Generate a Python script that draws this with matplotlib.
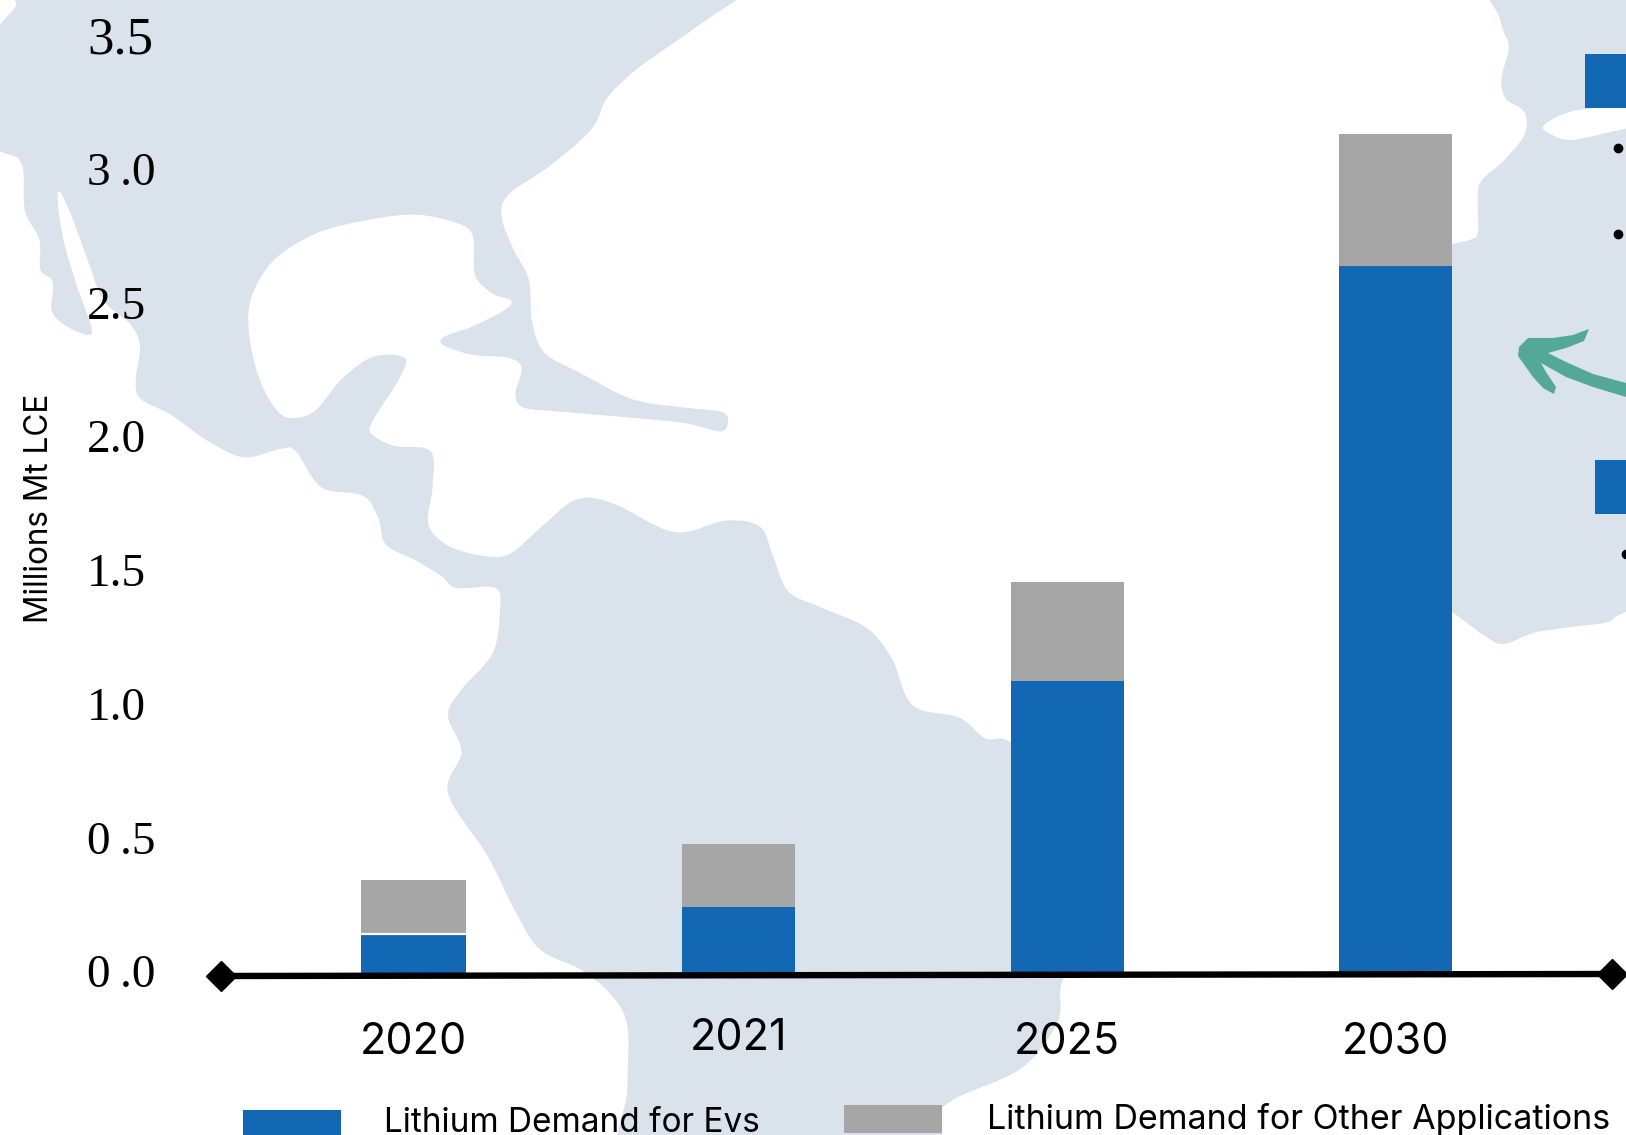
import numpy as np
import matplotlib
matplotlib.use('Agg')
import matplotlib.pyplot as plt
from matplotlib.patches import PathPatch, Polygon, Rectangle
from matplotlib.path import Path
from matplotlib.transforms import Affine2D

# ---- chart values ----
years = ['2020', '2021', '2025', '2030']
ev_demand = [0.155, 0.255, 1.10, 2.65]
other_demand = [0.20, 0.235, 0.37, 0.495]
y_ticks = [0.0, 0.5, 1.0, 1.5, 2.0, 2.5, 3.0, 3.5]
y_tick_labels = ['0\u2009.0', '0\u2009.5', '1.0', '1.5', '2.0', '2.5', '3\u2009.0', '3.5']
ev_label = 'Lithium Demand for Evs'
other_label = 'Lithium Demand for Other Applications'

BLUE = '#1268B3'
GREY = '#A6A6A6'
MAP = '#DAE2EB'
TEAL = '#54A898'
W, H = 1626, 1135
SCALE = W / 1568

# ---- background land outlines, in 1568 wide sketch units ----
americas = [
    (-30, 52), (-8, 32), (14, 8), (40, -22), (300, -30), (690, -30), (728, -16), (680, 20), (640, 48), (610, 70), (585, 95),
    (570, 125), (530, 160),
    (490, 188), (484, 210), (495, 240), (510, 270), (513, 310), (525, 340), (560, 360),
    (610, 385), (660, 393), (695, 397), (702, 405), (695, 416), (660, 408), (600, 402),
    (540, 397), (505, 393), (497, 380), (503, 355), (490, 345), (455, 342), (428, 333),
    (428, 325), (455, 315), (485, 300), (493, 290), (475, 283), (458, 265), (455, 225),
    (430, 212), (395, 207), (350, 213), (305, 225), (265, 250), (243, 285), (240, 320),
    (250, 365), (268, 397), (285, 403), (305, 395), (330, 365), (360, 344), (390, 345),
    (385, 365), (360, 405), (358, 418), (380, 430), (415, 435), (417, 470), (413, 505),
    (430, 525), (460, 535), (490, 535), (520, 510), (555, 482), (590, 485), (650, 513),
    (700, 502), (733, 508), (745, 535), (760, 570), (790, 585), (835, 605), (860, 635),
    (880, 680), (925, 692), (950, 712), (975, 716), (1030, 760), (1075, 830), (1060, 900),
    (1025, 945), (1020, 985), (985, 1030), (920, 1060), (905, 1080), (905, 1130), (760, 1140), (605, 1130),
    (605, 1050), (605, 990),
    (590, 960), (560, 935), (520, 915), (495, 875), (470, 825), (432, 765), (445, 725),
    (432, 690), (445, 665), (475, 630), (482, 590), (478, 567), (440, 567), (425, 555),
    (400, 540), (372, 525), (365, 500), (350, 478), (310, 470), (285, 435), (270, 433),
    (235, 441), (200, 425), (165, 400), (135, 384), (131, 365), (135, 333), (125, 312),
    (100, 290), (85, 252), (72, 216), (58, 185), (56, 198), (62, 235), (75, 278), (88, 315),
    (85, 323), (65, 315), (50, 300), (51, 272), (39, 260), (38, 231), (24, 203), (21, 158),
    (0, 146), (-40, 130),
]
africa = [
    (1440, -40), (1447, 20), (1455, 45), (1448, 75), (1452, 95), (1470, 108), (1470, 130),
    (1450, 155), (1428, 175), (1425, 195), (1425, 225), (1415, 232), (1400, 236), (1380, 250),
    (1380, 580), (1400, 590), (1430, 612), (1450, 621), (1480, 610), (1520, 604), (1550, 600),
    (1568, 590), (1650, 560), (1650, -40),
]
inland_sea = [(1488, 122), (1505, 111), (1530, 105), (1600, 100), (1600, 120), (1568, 124), (1516, 135), (1495, 129)]
arrow_outline = [
    (1589, 329), (1584, 341), (1566, 348), (1548, 353), (1566, 362), (1593, 374), (1626, 383),
    (1626, 397), (1593, 387), (1566, 377), (1541, 363), (1546, 372), (1556, 387), (1554, 394),
    (1543, 388), (1533, 377), (1518, 356), (1519, 347), (1528, 338), (1553, 338), (1573, 335),
]


def smooth_path(points):
    # closed Catmull-Rom curve turned into cubic bezier segments
    pts = np.array(points, dtype=float) * SCALE
    n = len(pts)
    verts = [pts[0]]
    codes = [Path.MOVETO]
    for i in range(n):
        p0, p1, p2, p3 = pts[i - 1], pts[i], pts[(i + 1) % n], pts[(i + 2) % n]
        verts += [p1 + (p2 - p0) / 6, p2 - (p3 - p1) / 6, p2]
        codes += [Path.CURVE4] * 3
    return Path(verts, codes)


fig = plt.figure(figsize=(W / 100, H / 100), dpi=100, facecolor='white')
zero_px = 975
unit_px = 267.5
ax = fig.add_axes([0, 1 - zero_px / H, 1, zero_px / H])
ax.set_xlim(0, W)
ax.set_ylim(0, zero_px / unit_px)
for s in ax.spines.values():
    s.set_visible(False)
ax.patch.set_visible(False)

# pixels measured from the top left corner of the figure
px = Affine2D().scale(1, -1).translate(0, H)

ax.add_patch(PathPatch(smooth_path(americas), fc=MAP, ec='none', transform=px, clip_on=False, zorder=0))
ax.add_patch(PathPatch(smooth_path(africa), fc=MAP, ec='none', transform=px, clip_on=False, zorder=0))
ax.add_patch(PathPatch(smooth_path(inland_sea), fc='white', ec='none', transform=px, clip_on=False, zorder=0.5))

# ---- stacked bars ----
centers = [413, 738, 1067, 1395]
widths = [105, 113, 113, 113]
ax.bar(centers, ev_demand, widths, color=BLUE, zorder=1)
ax.bar(centers, other_demand, widths, bottom=ev_demand, color=GREY, zorder=1)
# thin white gap between the two segments of the first bar
ax.hlines(ev_demand[0], centers[0] - widths[0] / 2, centers[0] + widths[0] / 2, color='white', lw=1.6, zorder=1.5)

# ---- axis text ----
ax.set_yticks(y_ticks, labels=y_tick_labels, ha='left', family='Liberation Serif', fontsize=34)
ax.tick_params(axis='y', length=0, pad=-87 * 0.72, colors='black')
ax.get_yticklabels()[-1].set_fontsize(38)
for lab in ax.get_yticklabels():
    lab.set_transform(lab.get_transform() + Affine2D().translate(0, 4))

ax.set_xticks(centers, labels=years, family='Inter', fontsize=31)
ax.tick_params(axis='x', length=0, pad=34)
ax.xaxis.get_major_ticks()[1].set_pad(31)

ax.text(40, 508, 'Millions Mt LCE', rotation=90, ha='center', va='center', family='Inter',
        fontsize=22.7, transform=px)

# ---- baseline with diamond ends ----
ax.plot([221, 1612], [976, 974], color='black', lw=4.6, transform=px, clip_on=False, zorder=3)
ax.plot([221, 1612], [976, 974], ls='none', marker='D', ms=15.5, color='black', transform=px,
        clip_on=False, zorder=3)

# ---- legend ----
ax.add_patch(Rectangle((243, 1110), 98, 30, fc=BLUE, ec='none', transform=px, clip_on=False))
ax.add_patch(Rectangle((844, 1105), 98, 28, fc=GREY, ec='none', transform=px, clip_on=False))
ax.text(384, 1123, ev_label, ha='left', va='center', family='Inter', fontsize=24, transform=px, clip_on=False)
ax.text(987, 1119, other_label, ha='left', va='center', family='Inter', fontsize=24.5, transform=px, clip_on=False)

# ---- pieces of the neighbouring panel along the right edge ----
ax.add_patch(Polygon(arrow_outline, closed=True, fc=TEAL, ec='none', transform=px, clip_on=False, zorder=2))
ax.add_patch(Rectangle((1585, 54), 60, 54, fc=BLUE, ec='none', transform=px, clip_on=False, zorder=2))
ax.add_patch(Rectangle((1595, 460), 60, 54, fc=BLUE, ec='none', transform=px, clip_on=False, zorder=2))
ax.plot([1618, 1618, 1626], [148, 234, 554], ls='none', marker='o', ms=6, color='black', transform=px,
        clip_on=False, zorder=2)

fig.savefig('out.png', dpi=100)
